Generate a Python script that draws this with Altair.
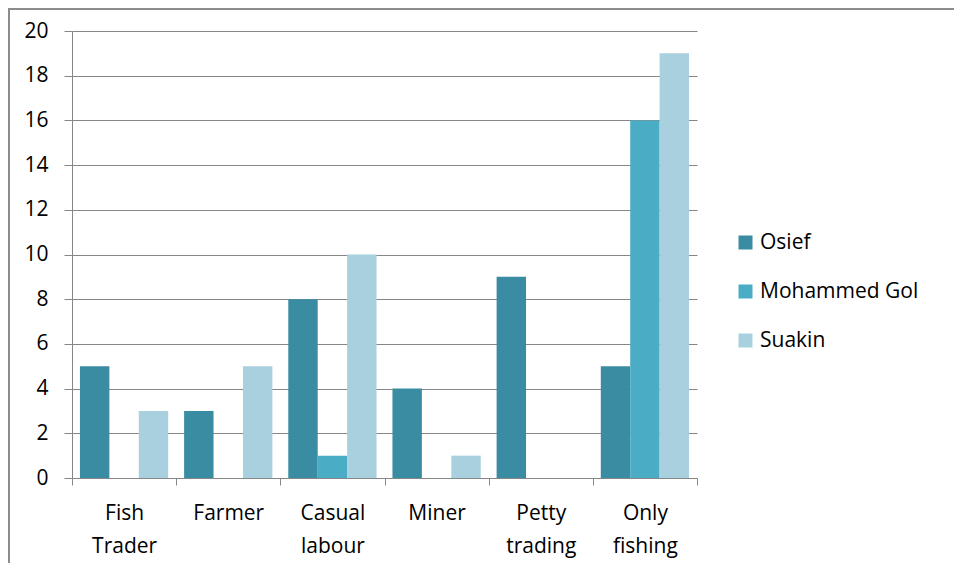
import altair as alt
import pandas as pd

categories = ["Fish Trader", "Farmer", "Casual labour", "Miner", "Petty trading", "Only fishing"]
series = ["Osief", "Mohammed Gol", "Suakin"]
osief = [5, 3, 8, 4, 9, 5]
mohammed_gol = [0, 0, 1, 0, 0, 16]
suakin = [3, 5, 10, 1, 0, 19]
colors = ["#3A8CA3", "#4BACC6", "#A8D0DE"]
y_ticks = [0, 2, 4, 6, 8, 10, 12, 14, 16, 18, 20]

rows = []
for name, vals in zip(series, [osief, mohammed_gol, suakin]):
    for c, v in zip(categories, vals):
        rows.append({"category": c, "series": name, "value": v})
df = pd.DataFrame(rows)

FONT = "Open Sans"
GRAY = "#868686"
W, H = 625, 447
RIGHT = 257

bars = alt.Chart(df).mark_bar().encode(
    x=alt.X(
        "category:N",
        sort=categories,
        scale=alt.Scale(paddingInner=0, paddingOuter=0),
        axis=alt.Axis(
            title=None,
            labelAngle=0,
            labelExpr="split(datum.label, ' ')",
            labelFont=FONT,
            labelFontSize=21,
            labelColor="#000000",
            labelPadding=17,
            labelLineHeight=33,
            labelBaseline="top",
            tickBand="extent",
            tickSize=7,
            tickColor=GRAY,
            domainColor=GRAY,
            grid=False,
        ),
    ),
    xOffset=alt.XOffset("series:N", sort=series, scale=alt.Scale(paddingOuter=0.27, paddingInner=0)),
    y=alt.Y(
        "value:Q",
        scale=alt.Scale(domain=[0, 20], nice=False),
        axis=alt.Axis(
            title=None,
            values=y_ticks,
            labelFont=FONT,
            labelFontSize=21,
            labelColor="#000000",
            labelPadding=16,
            tickSize=8,
            tickColor=GRAY,
            domainColor=GRAY,
            gridColor=GRAY,
            gridWidth=1,
        ),
    ),
    color=alt.Color(
        "series:N",
        sort=series,
        scale=alt.Scale(domain=series, range=colors),
        legend=alt.Legend(
            title=None,
            orient="none",
            legendX=663,
            legendY=201,
            symbolType="square",
            symbolSize=196,
            symbolStrokeWidth=0,
            labelFont=FONT,
            labelFontSize=21,
            labelColor="#000000",
            labelOffset=4,
            rowPadding=27,
            padding=0,
        ),
    ),
)

frame = pd.DataFrame({"k": [0]})
top_line = alt.Chart(frame).mark_rule(color="#8C8C8C", strokeWidth=2).encode(
    x=alt.value(-64), x2=alt.value(W + RIGHT), y=alt.value(-22)
)
left_line = alt.Chart(frame).mark_rule(color="#8C8C8C", strokeWidth=2).encode(
    x=alt.value(-63), y=alt.value(-23), y2=alt.value(H + 90)
)

chart = alt.layer(bars, top_line, left_line).properties(
    width=W,
    height=H,
    autosize=alt.AutoSizeParams(type="none"),
    padding={"left": 64, "top": 23, "right": RIGHT, "bottom": 85},
).configure_view(strokeWidth=0)

chart.save("out.html", embed_options={"renderer": "svg", "actions": False})
